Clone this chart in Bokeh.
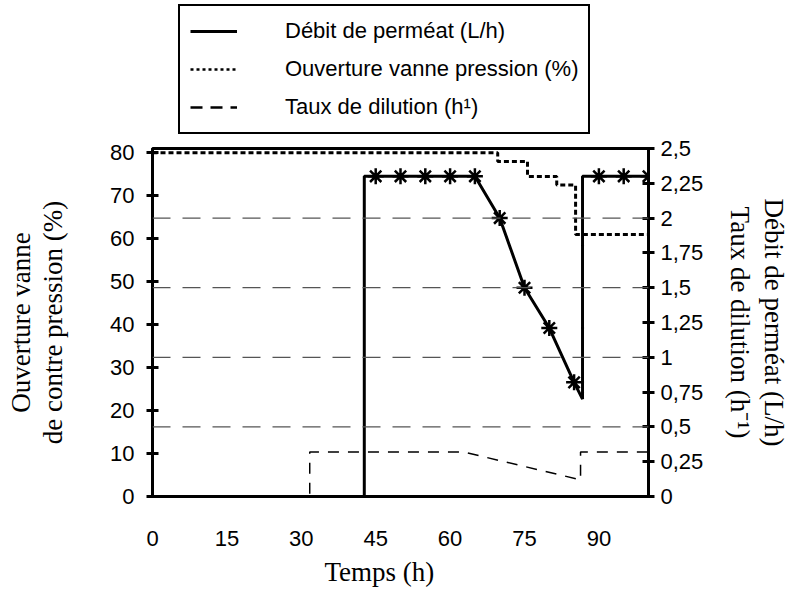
import numpy as np
from bokeh.plotting import figure
from bokeh.layouts import column
from bokeh.models import Range1d, LinearAxis, FixedTicker, Span, Legend, LegendItem, Title
from bokeh.embed import file_html
from bokeh.resources import INLINE

# ---- data ----
x_ticks = [0, 15, 30, 45, 60, 75, 90]
left_ticks = [0, 10, 20, 30, 40, 50, 60, 70, 80]
right_ticks = [0, 0.25, 0.5, 0.75, 1, 1.25, 1.5, 1.75, 2, 2.25, 2.5]
right_tick_labels = ["0", "0,25", "0,5", "0,75", "1", "1,25", "1,5", "1,75", "2", "2,25", "2,5"]
grid_levels = [0.5, 1, 1.5, 2]

# Débit de perméat (L/h) - right axis
perm_t = [0, 42.7, 42.7, 45, 50, 55, 60, 65, 70, 75, 80, 85, 86.7, 86.7, 90, 95, 100]
perm_v = [0, 0, 2.3, 2.3, 2.3, 2.3, 2.3, 2.3, 2.0, 1.5, 1.21, 0.82, 0.70, 2.3, 2.3, 2.3, 2.3]
perm_mark_t = [45, 50, 55, 60, 65, 70, 75, 80, 85, 90, 95, 100]
perm_mark_v = [2.3, 2.3, 2.3, 2.3, 2.3, 2.0, 1.5, 1.21, 0.82, 2.3, 2.3, 2.3]

# Ouverture vanne pression (%) - left axis
vanne_t = [0, 69.6, 69.6, 75.6, 75.6, 81.5, 81.5, 85.3, 85.3, 100]
vanne_v = [80, 80, 78, 78, 74.5, 74.5, 72.5, 72.5, 61, 61]

# Taux de dilution (h-1) - right axis
dil_t = [0, 31.7, 31.7, 62.7, 86.3, 86.3, 100]
dil_v = [0, 0, 0.32, 0.32, 0.12, 0.32, 0.32]

labels_legend = ["Débit de perméat (L/h)", "Ouverture vanne pression (%)", "Taux de dilution (h¹)"]

W = 790
LEG_H = 136
MAIN_H = 459

tick_font = "Liberation Sans"
tick_size = "22px"
title_font = "Liberation Serif"
title_size = "27px"

# ---- main figure ----
p = figure(width=W, height=MAIN_H, x_range=Range1d(0, 100), y_range=Range1d(0, 81),
           output_backend="svg", toolbar_location=None,
           min_border_left=152, min_border_right=142, min_border_top=12, min_border_bottom=99)
p.extra_y_ranges = {"right": Range1d(0, 2.5)}
p.xgrid.visible = False
p.ygrid.visible = False
p.outline_line_color = "black"
p.outline_line_width = 3
p.background_fill_color = "white"

xa = p.xaxis[0]
xa.ticker = FixedTicker(ticks=x_ticks)
xa.major_tick_in = 0
xa.major_tick_out = 0
xa.minor_tick_out = 0
xa.minor_tick_in = 0
xa.axis_line_width = 3
xa.major_label_standoff = 34
xa.major_label_text_font = tick_font
xa.major_label_text_font_size = tick_size
xa.major_label_text_color = "black"

ya = p.yaxis[0]
ya.ticker = FixedTicker(ticks=left_ticks)
ya.major_tick_in = 6
ya.major_tick_out = 6
ya.minor_tick_out = 0
ya.minor_tick_in = 0
ya.axis_line_width = 3
ya.major_tick_line_width = 3
ya.major_label_standoff = 12
ya.major_label_text_font = tick_font
ya.major_label_text_font_size = tick_size
ya.major_label_text_color = "black"
ya.axis_label = "de contre pression (%)"
ya.axis_label_standoff = 39
ya.axis_label_text_font = title_font
ya.axis_label_text_font_size = title_size
ya.axis_label_text_font_style = "normal"
ya.axis_label_text_color = "black"

ra = LinearAxis(y_range_name="right", ticker=FixedTicker(ticks=right_ticks),
                major_label_overrides={t: l for t, l in zip(right_ticks, right_tick_labels)})
ra.major_tick_in = 6
ra.major_tick_out = 6
ra.minor_tick_out = 0
ra.minor_tick_in = 0
ra.axis_line_width = 3
ra.major_tick_line_width = 3
ra.major_label_standoff = 6
ra.major_label_text_font = tick_font
ra.major_label_text_font_size = tick_size
ra.major_label_text_color = "black"
ra.axis_label = "Taux de dilution (h⁻¹)"
ra.axis_label_standoff = 19
ra.axis_label_text_font = title_font
ra.axis_label_text_font_size = title_size
ra.axis_label_text_font_style = "normal"
ra.axis_label_text_color = "black"
p.add_layout(ra, "right")


def side_title(text, side, standoff, align="center", offset=0):
    p.add_layout(Title(text=text, align=align, offset=offset, standoff=standoff,
                       text_font=title_font, text_font_size=title_size,
                       text_font_style="normal", text_color="black"), side)


side_title("Ouverture vanne", "left", 0)
side_title("Débit de perméat (L/h)", "right", 0)
side_title("Temps (h)", "below", 12, align="left", offset=172)

for lvl in grid_levels:
    p.add_layout(Span(location=lvl, dimension="width", y_range_name="right",
                      line_color="#555555", line_width=1.3, line_dash="18 12"))

r_dil = p.line(dil_t, dil_v, y_range_name="right", line_color="black", line_width=1.5, line_dash="11 9")
r_vanne = p.line(vanne_t, vanne_v, line_color="black", line_width=3, line_dash="5 3")
r_perm = p.line(perm_t, perm_v, y_range_name="right", line_color="black", line_width=3)
p.scatter(perm_mark_t, perm_mark_v, y_range_name="right", marker="asterisk", size=16,
          line_color="black", line_width=2.5)

# ---- legend strip above the chart (its ranges keep the series out of view) ----
lf = figure(width=W, height=LEG_H, x_range=Range1d(1000, 1100), y_range=Range1d(1000, 1100),
            output_backend="svg", toolbar_location=None,
            x_axis_location=None, y_axis_location=None, min_border=0)
lf.xgrid.visible = False
lf.ygrid.visible = False
lf.outline_line_color = None
lg_perm = lf.line(perm_t, perm_v, line_color="black", line_width=3)
lg_vanne = lf.line(vanne_t, vanne_v, line_color="black", line_width=2.5, line_dash="3 3")
lg_dil = lf.line(dil_t, dil_v, line_color="black", line_width=2.5, line_dash="12 8")

legend = Legend(items=[LegendItem(label=labels_legend[0], renderers=[lg_perm]),
                       LegendItem(label=labels_legend[1], renderers=[lg_vanne]),
                       LegendItem(label=labels_legend[2], renderers=[lg_dil])],
                location=(26, 2), border_line_color="black", border_line_alpha=1.0,
                border_line_width=2.5,
                padding=10, spacing=8, glyph_width=47, glyph_height=30, label_height=30,
                label_standoff=48, label_text_font="Liberation Sans", label_text_font_size="22px",
                label_text_color="black",
                background_fill_alpha=1.0, margin=0)
lf.add_layout(legend)

layout = column(lf, p, spacing=0)
open("out.html", "w").write(file_html(layout, INLINE))
